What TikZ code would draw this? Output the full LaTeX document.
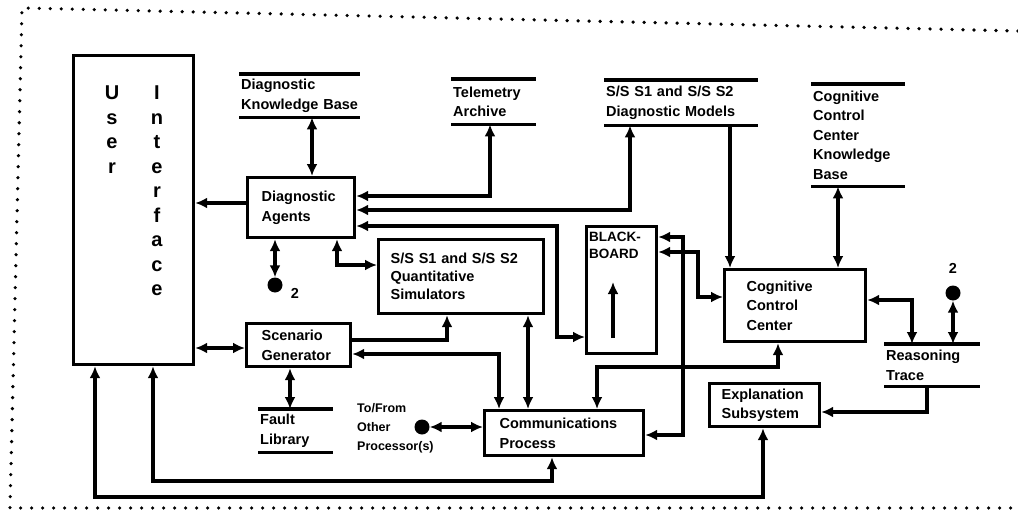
\documentclass[tikz,border=0pt]{standalone}
\usepackage{fontspec}
\setmainfont{Liberation Sans}
\usetikzlibrary{arrows.meta}
\newcommand\storelines[1]{\draw[storeline] (#1.north west) -- (#1.north east) (#1.south west) -- (#1.south east);}
\begin{document}
\begin{tikzpicture}[x=1pt,y=-1pt,
  every node/.style={font=\bfseries\fontsize{14.5}{19.5}\selectfont},
  box/.style={draw, line width=3.2pt, align=left, anchor=north west, inner ysep=0pt},
  store/.style={align=left, anchor=north west, inner xsep=2pt, inner ysep=0pt},
  storeline/.style={line width=3.2pt},
  conn/.style={line width=3.2pt},
  dbl/.style={conn, {Latex[length=12pt,width=11pt]}-{Latex[length=12pt,width=11pt]}},
  sgl/.style={conn, -{Latex[length=12pt,width=11pt]}},
  dot/.style={circle, fill, inner sep=0pt, minimum size=15pt},
  lbl/.style={inner sep=0pt},
  border/.style={line width=3.6pt, line cap=round, dash pattern=on 0pt off 11pt}
]
\useasboundingbox (0,0) rectangle (1018,514);
\draw[border] (1018,31) -- (22,8) -- (10,508) -- (1018,508);

% boxes
\node[box, minimum width=120pt, minimum height=309pt] (UI) at (72,54) {};
\node[lbl, anchor=north, align=center, font=\bfseries\fontsize{20}{24.5}\selectfont] (uiU) at (112,86) {U\\s\\e\\r};
\node[lbl, anchor=north, align=center, font=\bfseries\fontsize{20}{24.5}\selectfont] (uiI) at (157,86) {I\\n\\t\\e\\r\\f\\a\\c\\e};

\node[box, text width=79pt, inner xsep=14pt, minimum height=60pt] (DA) at (246,176) {Diagnostic\\Agents};
\node[box, text width=141pt, inner xsep=12pt, minimum height=74pt, font=\bfseries\fontsize{14.5}{18}\selectfont] (QS) at (377,238) {S/S S1 and S/S S2\\Quantitative\\Simulators};
\node[box, text width=74pt, inner xsep=15pt, minimum height=43pt] (SG) at (245,322) {Scenario\\Generator};
\node[box, minimum width=70pt, minimum height=127pt] (BB) at (585,225) {};
\node[lbl, anchor=north west, align=left, font=\bfseries\fontsize{13.5}{17}\selectfont] (BBt) at (589,232) {BLACK-\\BOARD};
\node[box, text width=97pt, inner xsep=22pt, minimum height=72pt] (CCC) at (723,268) {Cognitive\\Control\\Center};
\node[box, text width=129pt, inner xsep=15pt, minimum height=45pt] (CP) at (483,409) {Communications\\Process};
\node[box, text width=86pt, inner xsep=12pt, minimum height=43pt] (ES) at (708,382) {Explanation\\Subsystem};

% stores
\node[store, text width=117pt, minimum height=43pt] (DKB) at (239,74) {Diagnostic\\Knowledge Base};
\node[store, text width=81pt, minimum height=45pt] (TA) at (451,79) {Telemetry\\Archive};
\node[store, text width=150pt, minimum height=45pt] (DM) at (604,80) {S/S S1 and S/S S2\\Diagnostic Models};
\node[store, text width=90pt, minimum height=102pt] (CCKB) at (811,84) {Cognitive\\Control\\Center\\Knowledge\\Base};
\node[store, text width=92pt, minimum height=42pt] (RT) at (884,344) {Reasoning\\Trace};
\node[store, text width=71pt, minimum height=43pt] (FL) at (258,409) {Fault\\Library};
\storelines{DKB}\storelines{TA}\storelines{DM}\storelines{CCKB}\storelines{RT}\storelines{FL}

% dots and labels
\node[dot] (dA) at (275,285) {};
\node[lbl] (nA) at (295,293) {2};
\node[dot] (dB) at (953,293) {};
\node[lbl] (nB) at (953,268) {2};
\node[dot] (dC) at (422,427) {};
\node[lbl, anchor=north west, align=left, font=\bfseries\fontsize{12.5}{19}\selectfont] (TF) at (357,403) {To/From\\Other\\Processor(s)};

% helper coordinates
\coordinate (kbx) at (312,0);
\coordinate (day) at (0,203);
\coordinate (ta) at (490,196);
\coordinate (dm) at (630,210);
\coordinate (bbA) at (557,226);
\coordinate (bbB) at (557,337);
\coordinate (qsA) at (337,265);
\coordinate (sgA) at (0,348);
\coordinate (flx) at (290,0);
\coordinate (sq) at (447,340);
\coordinate (sc) at (499,354);
\coordinate (qc) at (528,0);
\coordinate (bcA) at (683,237);
\coordinate (bcB) at (683,435);
\coordinate (bkA) at (698,252);
\coordinate (bkB) at (698,297);
\coordinate (ccA) at (778,367);
\coordinate (ccB) at (597,367);
\coordinate (dmx) at (730,0);
\coordinate (kx) at (838,0);
\coordinate (rt) at (912,300);
\coordinate (re) at (927,412);
\coordinate (ueA) at (95,497);
\coordinate (ueB) at (763,497);
\coordinate (ucA) at (153,481);
\coordinate (ucB) at (552,481);
\coordinate (bbu1) at (613,338);
\coordinate (bbu2) at (613,282);

% connectors
\draw[dbl] (DKB.south -| kbx) -- (DA.north -| kbx);
\draw[sgl] (DA.west |- day) -- (UI.east |- day);
\draw[dbl] (DA.east |- ta) -| (TA.south -| ta);
\draw[dbl] (DA.east |- dm) -| (DM.south -| dm);
\draw[dbl] (DA.east |- bbA) -- (bbA) -- (bbB) -- (BB.west |- bbB);
\draw[dbl] (DA.south -| dA) -- (dA.north);
\draw[dbl] (DA.south -| qsA) |- (QS.west |- qsA);
\draw[dbl] (UI.east |- sgA) -- (SG.west |- sgA);
\draw[dbl] (SG.south -| flx) -- (FL.north -| flx);
\draw[sgl] (SG.east |- sq) -| (QS.south -| sq);
\draw[dbl] (SG.east |- sc) -| (CP.north -| sc);
\draw[dbl] (QS.south -| qc) -- (CP.north -| qc);
\draw[dbl] (dC.east) -- (CP.west |- dC);
\draw[dbl] (BB.east |- bcA) -- (bcA) -- (bcB) -- (CP.east |- bcB);
\draw[dbl] (BB.east |- bkA) -- (bkA) -- (bkB) -- (CCC.west |- bkB);
\draw[dbl] (CCC.south -| ccA) -- (ccA) -- (ccB) -- (CP.north -| ccB);
\draw[sgl] (DM.south -| dmx) -- (CCC.north -| dmx);
\draw[dbl] (CCKB.south -| kx) -- (CCC.north -| kx);
\draw[dbl] (CCC.east |- rt) -| (RT.north -| rt);
\draw[dbl] (dB.south) -- (RT.north -| dB);
\draw[sgl] (RT.south -| re) |- (ES.east |- re);
\draw[dbl] (UI.south -| ueA) -- (ueA) -- (ueB) -- (ES.south -| ueB);
\draw[dbl] (UI.south -| ucA) -- (ucA) -- (ucB) -- (CP.south -| ucB);
\draw[sgl] (bbu1) -- (bbu2);
\end{tikzpicture}
\end{document}
